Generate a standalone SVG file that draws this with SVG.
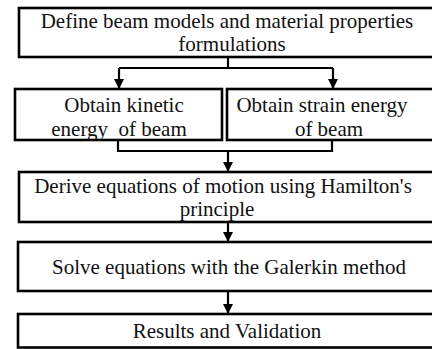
<svg xmlns="http://www.w3.org/2000/svg" width="432" height="349" viewBox="0 0 432 349">
<style>
.box{fill:#fff;stroke:#000;stroke-width:2.6}
.t{font-family:"Liberation Serif","Times New Roman",Times,serif;font-size:21px;fill:#111;text-anchor:middle;white-space:pre}
.c{fill:none;stroke:#000;stroke-width:2.2}
</style>
<defs>
<marker id="ah" viewBox="0 0 10 10" refX="10" refY="5" markerWidth="10" markerHeight="10" markerUnits="userSpaceOnUse" orient="auto">
<path d="M0,0 L10,5 L0,10 Z" fill="#000"/>
</marker>
</defs>
<rect width="432" height="349" fill="#fff"/>
<g id="connectors">
<path class="c" d="M228,57 V68 M119,68 H333"/>
<path class="c" d="M119,68 V89" marker-end="url(#ah)"/>
<path class="c" d="M333,68 V89" marker-end="url(#ah)"/>
<path class="c" d="M118,140 V151 H332 V140"/>
<path class="c" d="M228,151 V172" marker-end="url(#ah)"/>
<path class="c" d="M228,222 V242" marker-end="url(#ah)"/>
<path class="c" d="M228,291 V314" marker-end="url(#ah)"/>
</g>
<g id="n1">
<rect class="box" x="19" y="8" width="422" height="49"/>
<text class="t" x="227" y="27.5">Define beam models and material properties</text>
<text class="t" x="232" y="51">formulations</text>
</g>
<g id="n2">
<rect class="box" x="15" y="89" width="207" height="51"/>
<text class="t" x="124" y="112">Obtain kinetic</text>
<text class="t" x="119" y="135.5">energy  of beam</text>
</g>
<g id="n3">
<rect class="box" x="227" y="89" width="214" height="51"/>
<text class="t" x="322" y="112">Obtain strain energy</text>
<text class="t" x="329" y="135.5">of beam</text>
</g>
<g id="n4">
<rect class="box" x="19" y="172" width="422" height="50"/>
<text class="t" x="223" y="192.5">Derive equations of motion using Hamilton's</text>
<text class="t" x="217" y="216">principle</text>
</g>
<g id="n5">
<rect class="box" x="18" y="242" width="423" height="49"/>
<text class="t" x="229" y="274">Solve equations with the Galerkin method</text>
</g>
<g id="n6">
<rect class="box" x="18" y="314" width="423" height="33.5"/>
<text class="t" x="227" y="338">Results and Validation</text>
</g>
</svg>
